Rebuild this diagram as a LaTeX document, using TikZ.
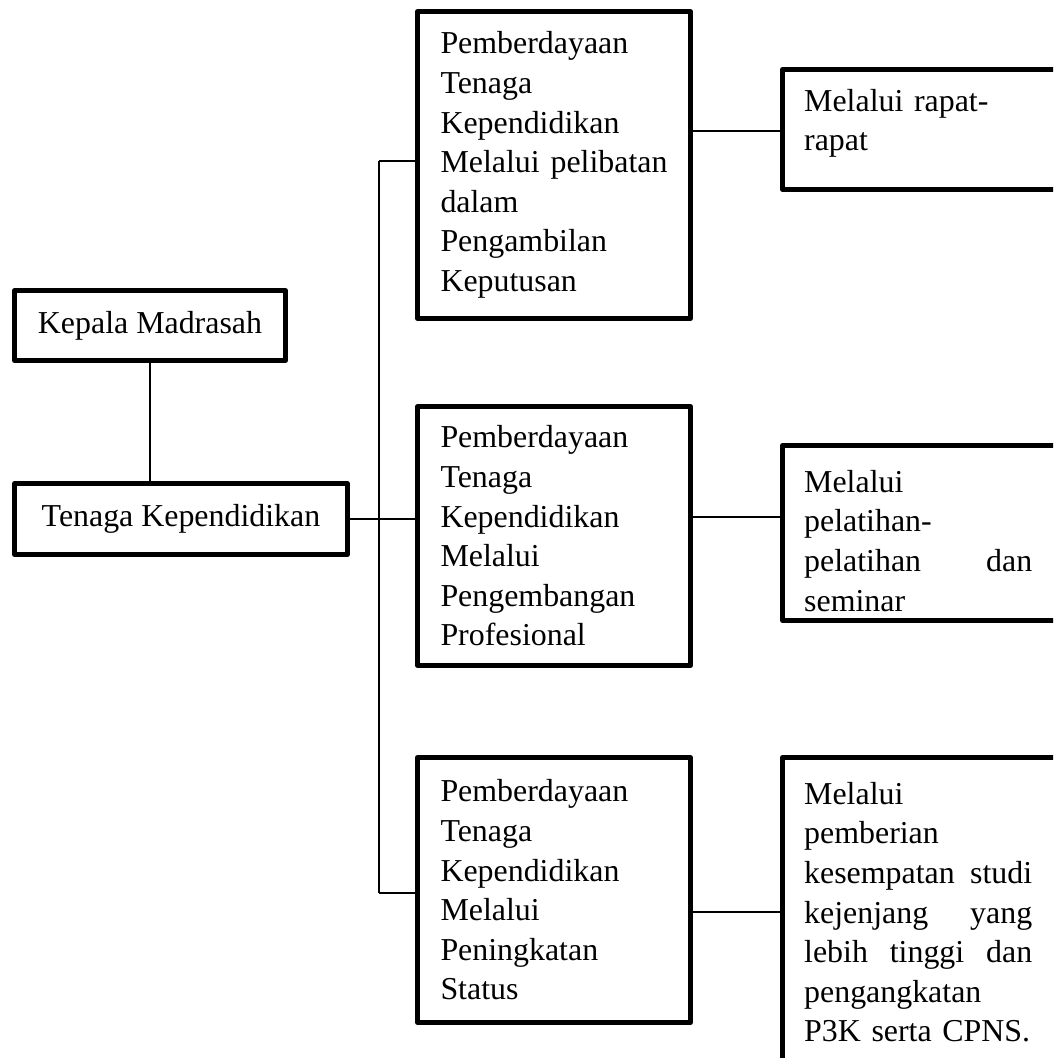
\documentclass[tikz,border=0pt]{standalone}
\usepackage{fontspec}
\setmainfont{Liberation Serif}
\newcommand\justm[1]{\leavevmode\hbox to 227pt{#1}}
\newcommand\justr[1]{\leavevmode\hbox to 228pt{#1}}
\begin{document}
\begin{tikzpicture}[x=1pt,y=-1pt,
  every node/.style={font=\fontsize{31.9pt}{39.6pt}\selectfont, inner sep=0pt},
  box/.style={draw, line width=4.6pt, rectangle, inner sep=0pt, line join=round},
  txt/.style={text width=#1, align=left},
  conn/.style={line width=1.6pt}]
\clip (0,0) rectangle (1053,1058);
\fill[white] (0,0) rectangle (1053,1058);

% left column
\node[box, minimum width=271pt, minimum height=70pt] (kep) at (150,325.5) {Kepala Madrasah};
\node[box, minimum width=333pt, minimum height=71pt] (ten) at (181,519) {Tenaga Kependidikan};

% middle column
\node[box, txt=227pt, minimum width=273pt, minimum height=307pt] (m1) at (554,165)
  {Pemberdayaan\\ Tenaga\\ Kependidikan\\ \justm{Melalui\hfill pelibatan}\\ dalam\\ Pengambilan\\ Keputusan};
\node[box, txt=227pt, minimum width=273pt, minimum height=259pt] (m2) at (554,536)
  {Pemberdayaan\\ Tenaga\\ Kependidikan\\ Melalui\\ Pengembangan\\ Profesional};
\node[box, txt=227pt, minimum width=273pt, minimum height=265pt] (m3) at (554,890)
  {Pemberdayaan\\ Tenaga\\ Kependidikan\\ Melalui\\ Peningkatan\\ Status};

% right column boxes
\node[box, minimum width=297.5pt, minimum height=120pt] (r1) at (931.25,129.5) {};
\node[box, minimum width=297.5pt, minimum height=175pt] (r2) at (931.25,533) {};
\node[box, minimum width=297.5pt, minimum height=332.5pt] (r3) at (931.25,923.75) {};

% right column texts
\node[txt=228pt, anchor=north west] (r1t) at (804,89) {Melalui rapat-\\ rapat};
\node[txt=228pt, anchor=north west] (r2t) at (804,470)
  {Melalui\\ pelatihan-\\ \justr{pelatihan\hfill dan}\\ seminar};
\node[txt=228pt, anchor=north west] (r3t) at (804,782)
  {Melalui\\ pemberian\\ \justr{kesempatan\hfill studi}\\ \justr{kejenjang\hfill yang}\\ \justr{lebih\hfill tinggi\hfill dan}\\ pengangkatan\\ P3K serta CPNS.};

% connectors
\coordinate (jt) at (379,161);
\coordinate (jb) at (379,893);
\coordinate (c1) at (736,131);
\coordinate (c2) at (736,517);
\coordinate (c3) at (736,912);

\draw[conn] (kep.south) -- (kep.south |- ten.north);
\draw[conn] (ten.east) -- (ten.east -| m2.west);
\draw[conn] (jt) -- (jb);
\draw[conn] (jt) -- (jt -| m1.west);
\draw[conn] (jb) -- (jb -| m3.west);
\draw[conn] (c1 -| m1.east) -- (c1 -| r1.west);
\draw[conn] (c2 -| m2.east) -- (c2 -| r2.west);
\draw[conn] (c3 -| m3.east) -- (c3 -| r3.west);
\end{tikzpicture}
\end{document}
